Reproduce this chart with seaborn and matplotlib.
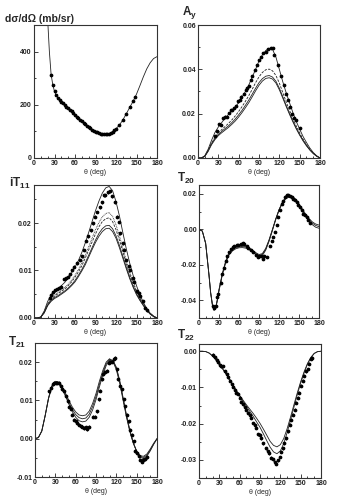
import seaborn as sns
import matplotlib
matplotlib.use("Agg")
import matplotlib.pyplot as plt
from matplotlib.ticker import MultipleLocator, FormatStrFormatter

sns.set_style("ticks")
plt.rcParams['font.family'] = ['Liberation Sans', 'DejaVu Sans']
plt.rcParams['font.weight'] = 'bold'
plt.rcParams['mathtext.fontset'] = 'custom'
plt.rcParams['mathtext.rm'] = 'Liberation Sans:bold'
plt.rcParams['mathtext.bf'] = 'Liberation Sans:bold'
plt.rcParams['axes.unicode_minus'] = False

# common angle grid for the calculated curves (deg)
theta = [0, 5, 10, 15, 20, 25, 30, 35, 40, 45, 50, 55, 60, 65, 70, 75, 80, 85, 90,
         95, 100, 105, 110, 115, 120, 125, 130, 135, 140, 145, 150, 155, 160, 165, 170, 175, 180]

# --- cross section ---
xs_theta = [15, 17.5, 20, 22.5, 25, 27.5, 30, 35, 40, 45, 50, 55, 60, 65, 70, 75, 80, 85, 90,
            95, 100, 105, 110, 115, 120, 125, 130, 135, 140, 145, 150, 155, 160, 165, 170, 175, 180]
xs_curve = [900, 700, 520, 400, 315, 275, 250, 224, 211, 199, 187, 175, 162, 150, 138, 127, 117, 107, 99,
            93, 90, 89, 92, 99, 110, 124, 143, 166, 190, 213, 240, 272, 305, 335, 358, 374, 381]
xs_data_th = [25, 27.5, 30, 32.5, 35, 37.5, 40, 42.5, 45, 47.5, 50, 52.5, 55, 57.5, 60, 62.5, 65, 67.5,
              70, 72.5, 75, 77.5, 80, 82.5, 85, 87.5, 90, 92.5, 95, 97.5, 100, 102.5, 105, 107.5,
              110, 112.5, 115, 117.5, 120, 125, 130, 135, 140, 145, 148]
xs_data = [312, 275, 250, 235, 224, 217, 211, 205, 199, 193, 187, 181, 175, 169, 162, 156, 150, 144,
           138, 132, 127, 122, 117, 112, 107, 103, 99, 96, 93, 91, 90, 89, 89, 90,
           92, 95, 99, 104, 110, 124, 143, 166, 190, 213, 228]

# --- Ay ---
ay_fit = [0, 0, 0.001, 0.004, 0.008, 0.0115, 0.014, 0.016, 0.018, 0.0197, 0.0213, 0.023, 0.025, 0.0275,
          0.030, 0.033, 0.0365, 0.040, 0.0438, 0.0465, 0.0485, 0.0495, 0.049, 0.0455, 0.040, 0.0345,
          0.0295, 0.025, 0.0205, 0.0165, 0.013, 0.0097, 0.007, 0.0045, 0.0025, 0.001, 0]
ay_dash = [0, 0, 0.0008, 0.0035, 0.0068, 0.0093, 0.0113, 0.0128, 0.0142, 0.0156, 0.0172, 0.019, 0.021,
           0.0232, 0.0256, 0.0282, 0.031, 0.034, 0.0366, 0.0386, 0.0398, 0.0401, 0.0393, 0.0372, 0.0338,
           0.0296, 0.0254, 0.0215, 0.0178, 0.0144, 0.0113, 0.0085, 0.006, 0.0039, 0.0022, 0.0009, 0]
ay_low1 = [0, 0, 0.0008, 0.0033, 0.0064, 0.0088, 0.0106, 0.012, 0.0133, 0.0145, 0.016, 0.0176, 0.0195,
           0.0215, 0.0238, 0.0262, 0.0288, 0.0315, 0.034, 0.0358, 0.0369, 0.0372, 0.0365, 0.0346, 0.0315,
           0.0277, 0.0238, 0.0202, 0.0167, 0.0135, 0.0106, 0.008, 0.0057, 0.0037, 0.0021, 0.0009, 0]
ay_low2 = [0, 0, 0.0007, 0.003, 0.006, 0.0083, 0.0101, 0.0114, 0.0126, 0.0138, 0.0152, 0.0167, 0.0185,
           0.0205, 0.0227, 0.025, 0.0276, 0.0303, 0.0328, 0.0347, 0.0359, 0.0362, 0.0356, 0.0338, 0.0308,
           0.0271, 0.0233, 0.0197, 0.0163, 0.0131, 0.0103, 0.0077, 0.0055, 0.0036, 0.002, 0.0008, 0]
ay_data_th = [24.6, 28, 31, 34.5, 37.5, 39.4, 43, 46, 48, 50, 53, 56, 59, 62, 64, 67.5, 70.5, 73, 75, 78,
              80, 84, 87, 90, 93, 96, 99.6, 103.5, 107, 110, 112.4, 118, 123, 127, 130, 133, 135.6,
              139, 142, 145, 150]
ay_data = [0.0100, 0.0120, 0.0155, 0.0150, 0.0180, 0.0187, 0.0185, 0.0202, 0.0217, 0.0215, 0.0225,
           0.0235, 0.0255, 0.0262, 0.0277, 0.0290, 0.0307, 0.0315, 0.0325, 0.0352, 0.0370, 0.0397,
           0.0420, 0.0442, 0.0457, 0.0472, 0.0480, 0.0490, 0.0495, 0.0495, 0.0465, 0.0420, 0.0370,
           0.0330, 0.0290, 0.0260, 0.0230, 0.0200, 0.0180, 0.0170, 0.0135]

# --- iT11 ---
t11_fit = [0, 0, 0.0002, 0.0015, 0.0035, 0.0048, 0.0056, 0.0062, 0.0068, 0.0075, 0.0084, 0.0095, 0.0107,
           0.0121, 0.0138, 0.0158, 0.018, 0.0203, 0.0226, 0.0246, 0.0263, 0.0274, 0.0277, 0.0268, 0.0245,
           0.0215, 0.018, 0.0146, 0.0116, 0.009, 0.0068, 0.0049, 0.0033, 0.002, 0.001, 0.0004, 0]
t11_dot = [0, 0, 0.0002, 0.0013, 0.003, 0.0041, 0.0048, 0.0053, 0.0058, 0.0064, 0.0071, 0.008, 0.009,
           0.0102, 0.0116, 0.0132, 0.015, 0.0168, 0.0186, 0.0201, 0.0213, 0.022, 0.0222, 0.0214, 0.0196,
           0.0173, 0.0147, 0.0121, 0.0097, 0.0076, 0.0058, 0.0043, 0.003, 0.0019, 0.001, 0.0004, 0]
t11_dash = [0, 0, 0.0002, 0.0012, 0.0029, 0.0039, 0.0046, 0.0051, 0.0056, 0.0061, 0.0068, 0.0076, 0.0086,
            0.0097, 0.011, 0.0126, 0.0143, 0.016, 0.0177, 0.0192, 0.0203, 0.0209, 0.0211, 0.0203, 0.0186,
            0.0164, 0.014, 0.0115, 0.0092, 0.0072, 0.0055, 0.0041, 0.0029, 0.0018, 0.0009, 0.0003, 0]
t11_low1 = [0, 0, 0.0002, 0.0011, 0.0027, 0.0037, 0.0043, 0.0047, 0.0052, 0.0057, 0.0063, 0.007, 0.0079,
            0.009, 0.0102, 0.0116, 0.0132, 0.0148, 0.0164, 0.0178, 0.0188, 0.0194, 0.0195, 0.0188, 0.0173,
            0.0153, 0.013, 0.0107, 0.0086, 0.0067, 0.0051, 0.0038, 0.0027, 0.0017, 0.0009, 0.0003, 0]
t11_low2 = [0, 0, 0.0002, 0.0011, 0.0026, 0.0035, 0.0041, 0.0045, 0.005, 0.0055, 0.0061, 0.0068, 0.0076,
            0.0087, 0.0099, 0.0112, 0.0128, 0.0144, 0.0159, 0.0172, 0.0182, 0.0188, 0.0189, 0.0182, 0.0168,
            0.0148, 0.0126, 0.0104, 0.0083, 0.0065, 0.0049, 0.0037, 0.0026, 0.0016, 0.0008, 0.0003, 0]
t11_data_th = [23, 25, 28, 31, 34, 36.5, 39, 44, 47, 50, 52.5, 56, 59, 63, 67, 70, 73, 76, 79, 83, 86,
               89, 92, 96, 99, 102, 104.5, 108, 111, 114, 118, 121, 124, 126.5, 130, 132, 135, 138.6,
               141, 144.5, 147, 151, 153, 155.6, 159.5, 163, 165]
t11_data = [0.0042, 0.0049, 0.0054, 0.0058, 0.0061, 0.0063, 0.0066, 0.0082, 0.0084, 0.0087, 0.0092,
            0.0101, 0.0108, 0.0115, 0.0122, 0.0130, 0.0143, 0.0162, 0.0172, 0.0185, 0.0199, 0.0213,
            0.0223, 0.0233, 0.0244, 0.0258, 0.0258, 0.0265, 0.0267, 0.0256, 0.0244, 0.0213, 0.0202,
            0.0178, 0.0157, 0.0144, 0.0122, 0.0109, 0.0101, 0.0084, 0.0075, 0.0056, 0.0052, 0.0047,
            0.0035, 0.0021, 0.0016]

# --- T20 ---
t20_theta = [0, 5, 10, 15, 17.5, 20, 22.5, 25, 27.5, 30, 35, 40, 45, 50, 55, 60, 65, 70, 75, 80, 85, 90,
             95, 100, 105, 110, 115, 120, 125, 130, 135, 140, 145, 150, 155, 160, 165, 170, 175, 180]
t20_a = [0, -0.001, -0.008, -0.026, -0.036, -0.0425, -0.0457, -0.0447, -0.0402, -0.0347, -0.0257, -0.0188,
         -0.0145, -0.0122, -0.011, -0.0104, -0.0103, -0.0106, -0.0114, -0.0127, -0.0142, -0.0153,
         -0.0148, -0.0118, -0.0068, -0.0008, 0.0055, 0.011, 0.0153, 0.018, 0.0191, 0.0187, 0.017,
         0.0144, 0.0114, 0.0086, 0.0061, 0.0042, 0.003, 0.0024]
t20_b = [0, -0.001, -0.008, -0.026, -0.036, -0.0424, -0.0455, -0.0444, -0.0399, -0.0343, -0.0253, -0.0184,
         -0.014, -0.0117, -0.0104, -0.0098, -0.0097, -0.01, -0.0108, -0.0121, -0.0136, -0.0147,
         -0.0142, -0.0113, -0.0064, -0.0005, 0.0056, 0.0109, 0.015, 0.0176, 0.0186, 0.0182, 0.0164,
         0.0138, 0.0108, 0.008, 0.0055, 0.0035, 0.0022, 0.0015]
t20_c = [0, -0.001, -0.0078, -0.0255, -0.0355, -0.042, -0.0452, -0.0441, -0.0395, -0.0339, -0.0249, -0.018,
         -0.0135, -0.0112, -0.0099, -0.0093, -0.0092, -0.0095, -0.0103, -0.0116, -0.0131, -0.0142,
         -0.0137, -0.0108, -0.006, -0.0002, 0.0057, 0.0108, 0.0147, 0.0172, 0.0181, 0.0176, 0.0158,
         0.0131, 0.0101, 0.0072, 0.0046, 0.0026, 0.0012, 0.0006]
t20_data_th = [21.5, 23, 25, 27, 29, 32.5, 35, 37.5, 40, 42.5, 45, 47.5, 50.5, 53, 56.5, 59, 62.5, 65.5,
               68, 71.5, 74, 78, 81.5, 85, 88, 90, 93, 95.5, 98, 101.5, 106.5, 109, 111.5, 114, 116.5,
               119, 121.5, 124, 126.5, 129, 131.5, 134, 136.5, 139, 141.5, 144, 146.5, 149, 151.5, 154,
               156.5, 159, 161.5, 164, 166.5]
t20_data = [-0.0430, -0.0445, -0.0430, -0.0383, -0.0365, -0.0300, -0.0254, -0.0217, -0.0180, -0.0152,
            -0.0130, -0.0111, -0.0100, -0.0093, -0.0087, -0.0087, -0.0083, -0.0078, -0.0081, -0.0096,
            -0.0106, -0.0119, -0.0130, -0.0143, -0.0156, -0.0152, -0.0148, -0.0167, -0.0152, -0.0155,
            -0.0093, -0.0068, -0.0044, -0.0013, 0.0024, 0.0070, 0.0107, 0.0144, 0.0157, 0.0185, 0.0194,
            0.0194, 0.0190, 0.0181, 0.0172, 0.0163, 0.0154, 0.0139, 0.0126, 0.0107, 0.0089, 0.0080,
            0.0067, 0.0052, 0.0037]

# --- T21 ---
t21_a = [0, 0.0003, 0.002, 0.006, 0.0105, 0.0135, 0.0146, 0.0143, 0.0130, 0.0111, 0.009, 0.0071, 0.0056,
         0.0047, 0.0044, 0.0046, 0.0056, 0.0075, 0.0102, 0.0135, 0.0166, 0.0191, 0.0205, 0.0205, 0.0187,
         0.0152, 0.0107, 0.0062, 0.0022, -0.001, -0.0034, -0.0048, -0.0052, -0.0046, -0.0032, -0.0015, 0]
t21_b = [0, 0.0003, 0.002, 0.006, 0.0106, 0.0137, 0.0148, 0.0146, 0.0133, 0.0115, 0.0095, 0.0077, 0.0063,
         0.0055, 0.0052, 0.0054, 0.0064, 0.0084, 0.011, 0.0142, 0.0172, 0.0196, 0.0207, 0.0204, 0.0184,
         0.0149, 0.0104, 0.0059, 0.002, -0.0011, -0.0033, -0.0046, -0.0049, -0.0043, -0.003, -0.0014, 0]
t21_c = [0, 0.0003, 0.002, 0.0061, 0.0107, 0.0139, 0.015, 0.0148, 0.0136, 0.0119, 0.01, 0.0083, 0.007,
         0.0062, 0.006, 0.0062, 0.0072, 0.0092, 0.0118, 0.015, 0.0178, 0.02, 0.0209, 0.0202, 0.018,
         0.0145, 0.01, 0.0056, 0.0018, -0.0012, -0.0032, -0.0044, -0.0046, -0.004, -0.0027, -0.0012, 0]
t21_data_th = [21, 23.7, 26, 28, 30.5, 33, 35.5, 38, 40.4, 43, 45.4, 48, 50, 52.8, 55, 57.7, 60, 62.6,
               65, 67.5, 70, 72.5, 75, 77.4, 80, 85, 88, 91, 93.7, 96, 98.6, 101, 103.5, 106, 108.5,
               111, 113.4, 116, 118, 121, 123, 126, 128, 130.7, 133, 135.6, 138, 140.5, 143, 145.5,
               148, 150, 153, 155, 158, 160, 163, 165]
t21_data = [0.0124, 0.0133, 0.0142, 0.0146, 0.0146, 0.0146, 0.0146, 0.0138, 0.0129, 0.0125, 0.0111,
            0.0098, 0.0083, 0.0078, 0.0063, 0.0050, 0.0046, 0.0040, 0.0037, 0.0032, 0.0031, 0.0028,
            0.0030, 0.0025, 0.0031, 0.0057, 0.0057, 0.0072, 0.0103, 0.0125, 0.0155, 0.0168, 0.0173,
            0.0177, 0.0199, 0.0201, 0.0201, 0.0207, 0.0212, 0.0181, 0.0155, 0.0138, 0.0129, 0.0103,
            0.0085, 0.0063, 0.0046, 0.0024, 0.0011, -0.0007, -0.0033, -0.0038, -0.0046, -0.0055,
            -0.0060, -0.0055, -0.0054, -0.0048]

# --- T22 ---
t22_up = [0, 0, -0.0001, -0.0005, -0.0013, -0.0024, -0.0036, -0.0049, -0.0063, -0.0078, -0.0093, -0.0108,
          -0.0122, -0.0135, -0.0148, -0.016, -0.0172, -0.0185, -0.0199, -0.0215, -0.0232, -0.0249, -0.026,
          -0.0264, -0.0258, -0.0241, -0.0214, -0.0182, -0.0148, -0.0115, -0.0084, -0.0057, -0.0034,
          -0.0017, -0.0006, -0.0001, 0]
t22_low = [0, 0, -0.0001, -0.0005, -0.0013, -0.0024, -0.0036, -0.0049, -0.0063, -0.0078, -0.0093, -0.0109,
           -0.0124, -0.0138, -0.0152, -0.0166, -0.018, -0.0195, -0.021, -0.0228, -0.0247, -0.0265, -0.0278,
           -0.0283, -0.0275, -0.0255, -0.0225, -0.019, -0.0155, -0.012, -0.0088, -0.006, -0.0036,
           -0.0018, -0.0006, -0.0001, 0]
t22_data_th = [21, 23.5, 26, 28, 31, 33, 35.7, 38, 40.6, 43, 45.5, 48, 50.4, 52.8, 55, 57.7, 60, 62.6,
               65, 67.5, 70, 72.4, 75, 77, 80, 82, 84.6, 87, 89.5, 92, 94.4, 99, 101.8, 104, 106.6, 109,
               111.5, 114, 116.4, 119, 121, 123.8, 126, 128.7, 131, 133.6, 136, 138.5, 141, 143, 145.8,
               148, 150.7, 153, 155.6, 158, 160.5, 163, 165, 166]
t22_data = [-0.0009, -0.0016, -0.0023, -0.0030, -0.0037, -0.0041, -0.0042, -0.0055, -0.0063, -0.0072,
            -0.0081, -0.0091, -0.0098, -0.0107, -0.0114, -0.0117, -0.0128, -0.0139, -0.0147, -0.0154,
            -0.0161, -0.0170, -0.0177, -0.0184, -0.0198, -0.0203, -0.0212, -0.0229, -0.0231, -0.0240,
            -0.0254, -0.0268, -0.0276, -0.0282, -0.0294, -0.0298, -0.0306, -0.0310, -0.0301, -0.0292,
            -0.0278, -0.0268, -0.0254, -0.0240, -0.0221, -0.0203, -0.0189, -0.0175, -0.0161, -0.0142,
            -0.0128, -0.0114, -0.0095, -0.0081, -0.0067, -0.0055, -0.0049, -0.0035, -0.0021, -0.0018]

W, H = 350, 498
fig = plt.figure(figsize=(W / 100, H / 100), dpi=100)


def make_ax(left, right, top, bottom):
    return fig.add_axes([left / W, 1 - bottom / H, (right - left) / W, (bottom - top) / H])


lc = '#222222'
lw = 0.6


def curve(ax, x, y, ls='-'):
    sns.lineplot(x=x, y=y, ax=ax, color=lc, linewidth=lw, linestyle=ls, sort=False)


def points(ax, x, y, err):
    ax.errorbar(x, y, yerr=err, fmt='o', ms=1.7, color='k', mec='k', elinewidth=0.5, capsize=0, zorder=5)


def style(ax, ylim, major, minor, fmt):
    ax.set_xlim(0, 180)
    ax.set_ylim(*ylim)
    ax.xaxis.set_major_locator(MultipleLocator(30))
    ax.xaxis.set_minor_locator(MultipleLocator(10))
    ax.yaxis.set_major_locator(MultipleLocator(major))
    ax.yaxis.set_minor_locator(MultipleLocator(minor))
    ax.yaxis.set_major_formatter(FormatStrFormatter(fmt))
    ax.tick_params(which='both', direction='in', labelsize=5, pad=1.5, width=0.6, colors='#222222')
    ax.tick_params(which='major', length=3)
    ax.tick_params(which='minor', length=1.5)
    for s in ax.spines.values():
        s.set_linewidth(0.8)
        s.set_color('#333333')
    ax.set_xlabel('θ (deg)', fontsize=5, labelpad=1.5)
    ax.set_ylabel('')


# cross section
ax1 = make_ax(34, 157, 25, 158)
curve(ax1, xs_theta, xs_curve)
points(ax1, xs_data_th, xs_data, 2)
style(ax1, (0, 500), 200, 100, '%d')
fig.text(5 / W, 1 - 22 / H, 'dσ/dΩ (mb/sr)', fontsize=7.5, fontweight='bold')

# Ay
ax2 = make_ax(198, 320, 25, 158)
curve(ax2, theta, ay_fit)
curve(ax2, theta, ay_dash, (0, (3, 1.5)))
curve(ax2, theta, ay_low1)
curve(ax2, theta, ay_low2)
points(ax2, ay_data_th, ay_data, 0.0005)
style(ax2, (0, 0.06), 0.02, 0.01, '%.2f')
fig.text(182 / W, 1 - 15 / H, r'$\mathbf{A}_{\mathbf{y}}$', fontsize=8.5)

# iT11
ax3 = make_ax(34, 157, 185, 318)
curve(ax3, theta, t11_fit)
curve(ax3, theta, t11_dot, (0, (1, 1)))
curve(ax3, theta, t11_dash, (0, (3, 1.5)))
curve(ax3, theta, t11_low1)
curve(ax3, theta, t11_low2)
points(ax3, t11_data_th, t11_data, 0.0003)
style(ax3, (0, 0.028), 0.01, 0.005, '%.2f')
fig.text(9 / W, 1 - 187 / H, r'$\mathbf{iT}_{\mathbf{11}}$', fontsize=8.5)

# T20
ax4 = make_ax(199, 319, 185, 318)
curve(ax4, t20_theta, t20_a)
curve(ax4, t20_theta, t20_b)
curve(ax4, t20_theta, t20_c)
points(ax4, t20_data_th, t20_data, 0.0006)
style(ax4, (-0.05, 0.025), 0.02, 0.01, '%.2f')
fig.text(177 / W, 1 - 182 / H, r'$\mathbf{T}_{\mathbf{20}}$', fontsize=8.5)

# T21
ax5 = make_ax(35, 157, 343, 477)
curve(ax5, theta, t21_a)
curve(ax5, theta, t21_b)
curve(ax5, theta, t21_c)
points(ax5, t21_data_th, t21_data, 0.0004)
style(ax5, (-0.01, 0.025), 0.01, 0.005, '%.2f')
fig.text(8 / W, 1 - 346 / H, r'$\mathbf{T}_{\mathbf{21}}$', fontsize=8.5)

# T22
ax6 = make_ax(199, 321, 344, 478)
curve(ax6, theta, t22_up)
curve(ax6, theta, t22_low)
points(ax6, t22_data_th, t22_data, 0.0004)
style(ax6, (-0.035, 0.002), 0.01, 0.005, '%.2f')
fig.text(177 / W, 1 - 339 / H, r'$\mathbf{T}_{\mathbf{22}}$', fontsize=8.5)

fig.savefig('out.png', dpi=100)
